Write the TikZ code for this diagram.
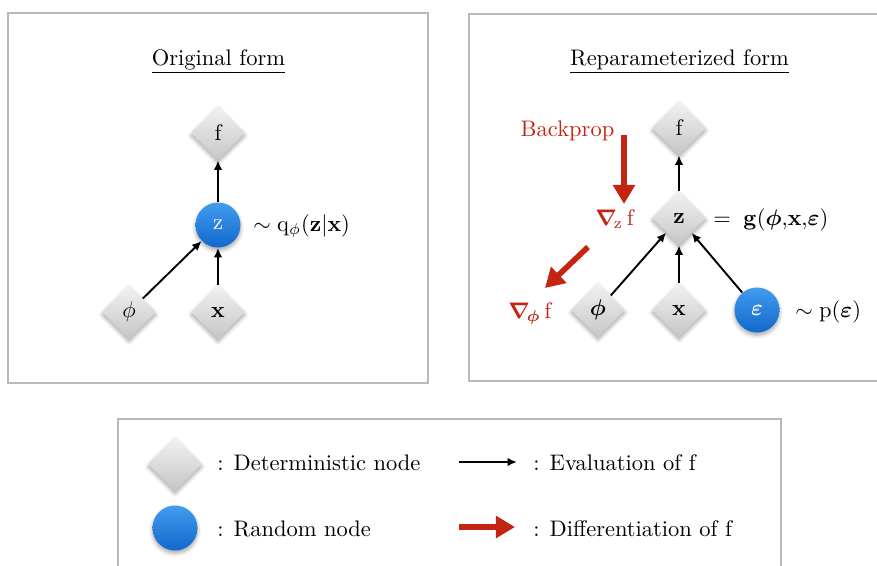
\documentclass[tikz,border=0pt]{standalone}
\usepackage{amsmath,amssymb}
\usetikzlibrary{arrows.meta,shapes.geometric,shadows.blur}
\definecolor{bpred}{RGB}{196,36,18}
\definecolor{panelgray}{RGB}{185,185,185}
\definecolor{blueTop}{RGB}{66,156,238}
\definecolor{blueBot}{RGB}{18,104,204}
\definecolor{grayTop}{RGB}{242,242,242}
\definecolor{grayBot}{RGB}{198,198,198}
\begin{document}
\begin{tikzpicture}[x=0.4444pt,y=-0.4444pt,
  softshadow/.style={blur shadow={shadow xshift=0pt,shadow yshift=-1.2pt,shadow blur steps=6,shadow opacity=35}},
  detnode/.style={diamond,minimum width=24pt,minimum height=24pt,inner sep=0pt,
    top color=grayTop,bottom color=grayBot,softshadow},
  rndnode/.style={circle,minimum size=20pt,inner sep=0pt,
    top color=blueTop,bottom color=blueBot,text=white,softshadow},
  evalarrow/.style={-{Latex[length=4.2pt,width=3.8pt]},line width=0.85pt},
  diffarrow/.style={-{Triangle[length=8.5pt,width=9.5pt]},line width=2.5pt,bpred},
  panel/.style={panelgray,line width=0.6pt},
  lbl/.style={inner sep=0pt},
  redlbl/.style={inner sep=0pt,text=bpred},
]
\useasboundingbox (0,0) rectangle (877,565);

% ---- left panel: original form ----
\draw[panel] (8,13) rectangle (428,383);
\node[lbl,anchor=base] (titleL) at (218.5,65) {\underline{Original form}};
\node[detnode] (fL) at (218,133) {f};
\node[rndnode] (zL) at (218,225) {z};
\node[detnode] (phiL) at (129,312) {$\phi$};
\node[detnode] (xL) at (218,312) {$\mathbf{x}$};
\node[lbl,anchor=west] (qL) at (253,226) {$\sim \mathrm{q}_{\phi}(\mathbf{z}|\mathbf{x})$};
\draw[evalarrow] (zL) -- (fL);
\draw[evalarrow] (phiL) -- (zL);
\draw[evalarrow] (xL) -- (zL);

% ---- right panel: reparameterized form ----
\draw[panel] (880,14) -- (469,14) -- (469,381) -- (880,381);
\node[lbl,anchor=base] (titleR) at (679.5,65) {\underline{Reparameterized form}};
\node[detnode] (fR) at (679,128) {f};
\node[detnode] (zR) at (679,218) {$\mathbf{z}$};
\node[detnode] (phiR) at (598,310) {$\boldsymbol{\phi}$};
\node[detnode] (xR) at (679,310) {$\mathbf{x}$};
\node[rndnode] (epsR) at (757,310) {$\boldsymbol{\varepsilon}$};
\node[lbl,anchor=west] (gR) at (713,220) {$=\;\mathbf{g}(\boldsymbol{\phi}{,}\mathbf{x}{,}\boldsymbol{\varepsilon})$};
\node[lbl,anchor=west] (pR) at (795,312) {$\sim \mathrm{p}(\boldsymbol{\varepsilon})$};
\draw[evalarrow] (zR) -- (fR);
\draw[evalarrow] (phiR) -- (zR);
\draw[evalarrow] (xR) -- (zR);
\draw[evalarrow] (epsR) -- (zR);

% backpropagation
\node[redlbl,anchor=base] (bp) at (567.5,136) {Backprop};
\node[redlbl,anchor=base west] (gradZ) at (595,225) {$\boldsymbol{\nabla}_{\!\mathrm{z}}\,\mathrm{f}$};
\node[redlbl,anchor=base west] (gradPhi) at (508,318) {$\boldsymbol{\nabla}_{\!\boldsymbol{\phi}}\,\mathrm{f}$};
\coordinate (bpA) at (624,135);
\coordinate (bpB) at (624,204);
\coordinate (dpA) at (588,247);
\coordinate (dpB) at (545,288);
\draw[diffarrow] (bpA) -- (bpB);
\draw[diffarrow] (dpA) -- (dpB);

% ---- legend ----
\draw[panel] (118,570) -- (118,419) -- (781,419) -- (781,570);
\node[detnode] (legDet) at (175,464) {};
\node[rndnode] (legRnd) at (175,528) {};
\node[lbl,anchor=base west] (legDetT) at (217,470) {: Deterministic node};
\node[lbl,anchor=base west] (legRndT) at (217,536) {: Random node};
\coordinate (evA) at (459,462);
\coordinate (evB) at (517,462);
\coordinate (dfA) at (459,527);
\coordinate (dfB) at (515,527);
\draw[evalarrow] (evA) -- (evB);
\draw[diffarrow] (dfA) -- (dfB);
\node[lbl,anchor=base west] (evT) at (533,470) {: Evaluation of f};
\node[lbl,anchor=base west] (dfT) at (533,536) {: Differentiation of f};
\end{tikzpicture}
\end{document}
